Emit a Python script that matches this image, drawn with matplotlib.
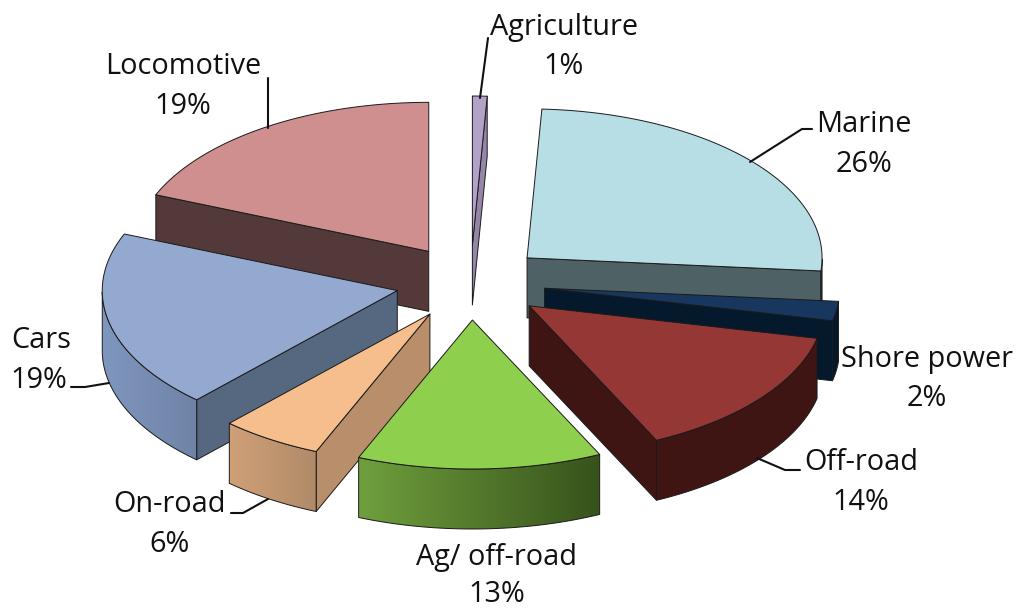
import matplotlib
matplotlib.use('Agg')
import matplotlib.pyplot as plt
from matplotlib.colors import to_rgb
from matplotlib.patches import Polygon
import numpy as np

plt.rcParams['font.family'] = ['Open Sans', 'DejaVu Sans']

# values clockwise from the top of the pie (they round to the printed labels)
names = ['Agriculture', 'Marine', 'Shore power', 'Off-road', 'Ag/ off-road', 'On-road', 'Cars', 'Locomotive']
shares = [0.8, 25.6, 2.1, 14.4, 13.4, 5.6, 19.3, 18.8]

top_colors = ['#B3A2C7', '#B7DDE5', '#17375E', '#953735', '#8FCF4E', '#F6BE8D', '#94A9D0', '#CF8F8F']
cut_colors = ['#9585A8', '#4E6164', '#04192B', '#3F1513', '#4F7A28', '#B98E6A', '#566880', '#53393A']
rim_left = ['#8F7FA3', '#4E6164', '#04192B', '#3F1513', '#6F9F3D', '#D0A078', '#7F96BE', '#53393A']
rim_right = ['#8F7FA3', '#4E6164', '#04192B', '#3F1513', '#36521B', '#B08A68', '#6F83A6', '#53393A']

# drawing order, back of the pie first
draw_order = [7, 0, 1, 6, 2, 3, 5, 4]

# pixel geometry of the pie
cx, cy = 470.5, 282.5
rx, ry = 295, 149
depth = 60
explode = 75
edge = '#1a1a1a'


def rim(a):
    return np.sin(a) * rx, -np.cos(a) * ry


def draw_slice(ax, i, a1, a2, z):
    mid = (a1 + a2) / 2
    x0 = cx + explode * np.sin(mid)
    y0 = cy - explode * np.cos(mid) * 0.5
    t = np.linspace(a1, a2, 80)
    px, py = rim(t)
    px, py = px + x0, py + y0

    # flat cut faces, only the ones turned to the viewer
    for a, normal in ((a1, a1 - np.pi / 2), (a2, a2 + np.pi / 2)):
        if np.cos(normal) < -1e-6:
            dx, dy = rim(a)
            quad = [(x0, y0), (x0 + dx, y0 + dy), (x0 + dx, y0 + dy + depth), (x0, y0 + depth)]
            ax.add_patch(Polygon(quad, fc=cut_colors[i], ec=edge, lw=0.7, joinstyle='round', zorder=z))

    # round outer wall, front half only, gradient image clipped to the wall
    front = np.cos(t) <= 0
    if front.sum() > 1:
        fx, fy = px[front], py[front]
        wall = np.c_[np.r_[fx, fx[::-1]], np.r_[fy, fy[::-1] + depth]]
        shape = Polygon(wall, fc='none', ec=edge, lw=0.7, zorder=z + 0.2)
        ax.add_patch(shape)
        ramp = np.linspace(to_rgb(rim_left[i]), to_rgb(rim_right[i]), 256)[None, :, :]
        img = ax.imshow(ramp, extent=(fx.min(), fx.max(), fy.max() + depth, fy.min()),
                        aspect='auto', zorder=z + 0.1, interpolation='bilinear')
        img.set_clip_path(shape)

    # top face
    ax.add_patch(Polygon(np.c_[np.r_[x0, px], np.r_[y0, py]], fc=top_colors[i], ec=edge, lw=0.7,
                         joinstyle='round', zorder=z + 0.3))


fig = plt.figure(figsize=(10.19, 6.09), dpi=100)
ax = fig.add_axes([0, 0, 1, 1])

ends = np.cumsum(shares) / sum(shares) * 2 * np.pi
starts = np.r_[0, ends[:-1]]
for z, i in enumerate(draw_order):
    draw_slice(ax, i, starts[i], ends[i], z + 1)

ax.set_xlim(0, 1019)
ax.set_ylim(609, 0)
ax.axis('off')

# label positions: name line and percent line share an x
label_x = [564, 864, 927, 861, 497, 170, 39, 183]
name_y = [28, 124, 360, 463, 557, 505, 340, 67]
pct_y = [67, 164, 399, 503, 595, 545, 380, 106]
for i in range(len(names)):
    x = 11 if names[i] == 'Cars' else label_x[i]
    ax.text(x, name_y[i], names[i], fontsize=20.8, color='#111111', va='center',
            ha='left' if names[i] == 'Cars' else 'center', zorder=20)
    ax.text(label_x[i], pct_y[i], '%.0f%%' % shares[i], fontsize=20.8, color='#111111', va='center',
            ha='center', zorder=20)

# leader lines
leaders = [
    [(488, 38), (480, 98)],
    [(812, 129), (802, 129), (750, 162)],
    [(800, 470), (785, 470), (757, 458)],
    [(231, 513), (243, 513), (268, 499)],
    [(71, 387), (85, 387), (109, 383)],
    [(268, 78), (268, 128)],
]
for line in leaders:
    xs, ys = zip(*line)
    ax.plot(xs, ys, color='#111111', lw=1.5, solid_capstyle='round', zorder=19)

fig.savefig('out.png', dpi=100)
